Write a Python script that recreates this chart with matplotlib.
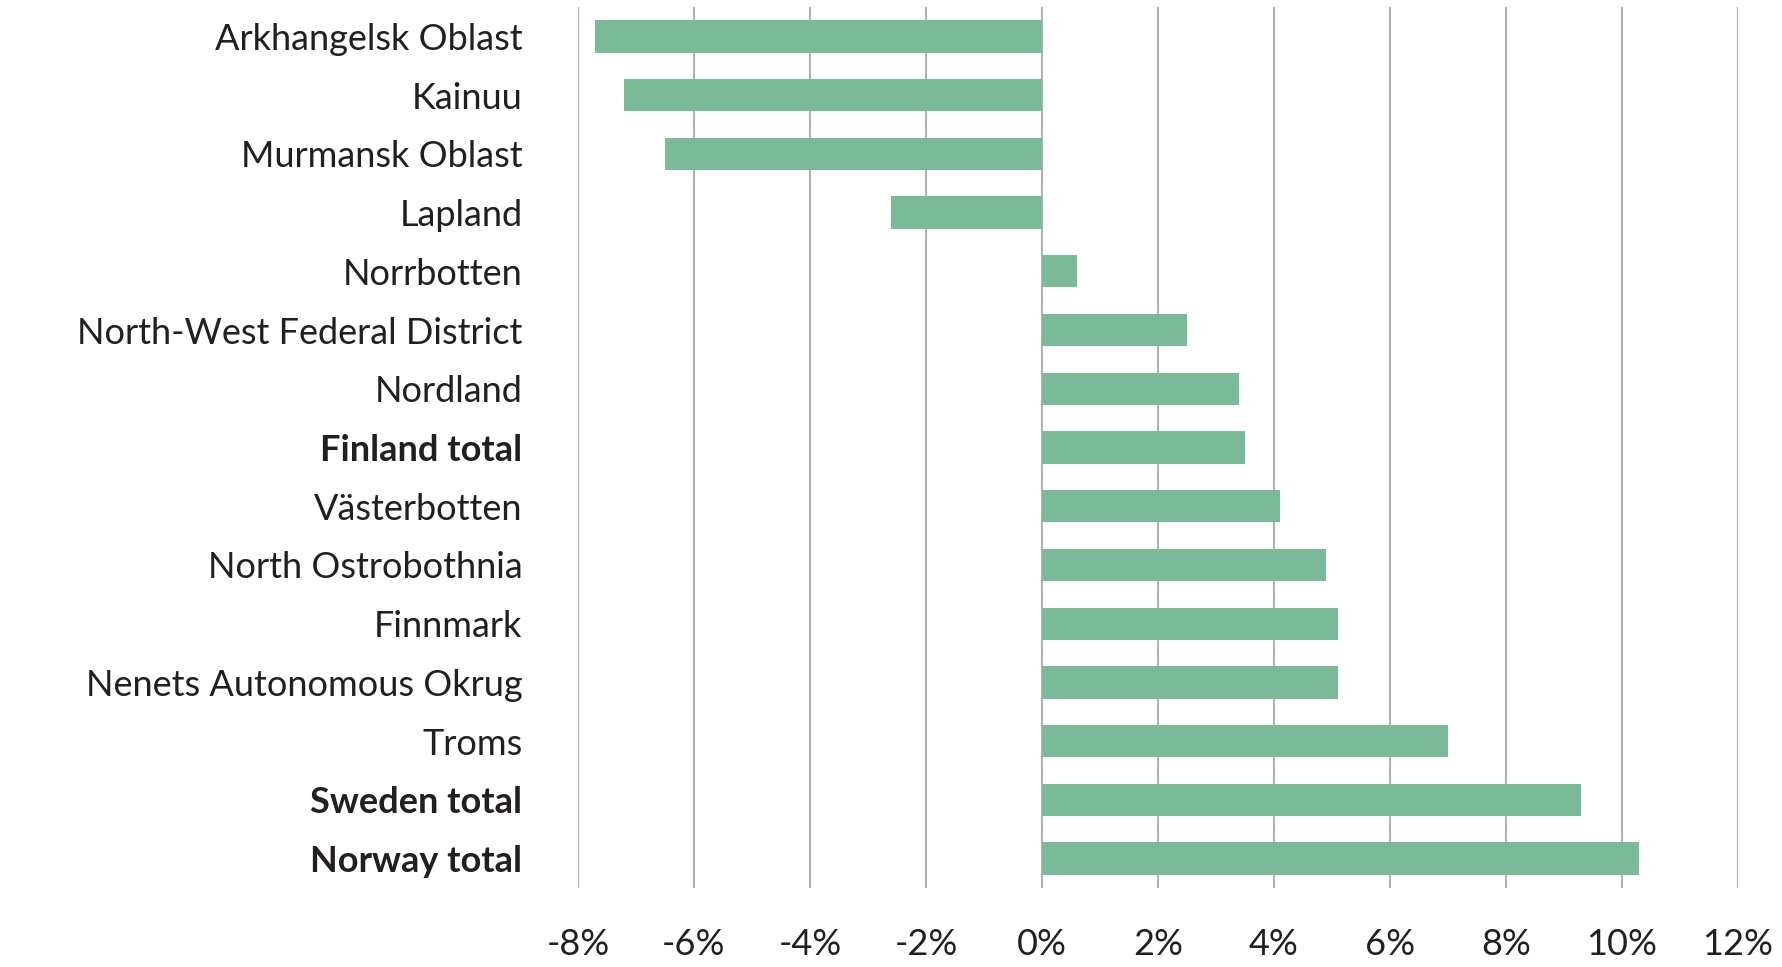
import matplotlib.pyplot as plt

# Data
regions = ["Arkhangelsk Oblast", "Kainuu", "Murmansk Oblast", "Lapland", "Norrbotten",
           "North-West Federal District", "Nordland", "Finland total", "Västerbotten",
           "North Ostrobothnia", "Finnmark", "Nenets Autonomous Okrug", "Troms",
           "Sweden total", "Norway total"]
change = [-7.7, -7.2, -6.5, -2.6, 0.6, 2.5, 3.4, 3.5, 4.1, 4.9, 5.1, 5.1, 7.0, 9.3, 10.3]
bold_rows = ["Finland total", "Sweden total", "Norway total"]
xticks = [-8, -6, -4, -2, 0, 2, 4, 6, 8, 10, 12]
xtick_labels = ["-8%", "-6%", "-4%", "-2%", "0%", "2%", "4%", "6%", "8%", "10%", "12%"]

plt.rcParams['font.family'] = ['Lato', 'DejaVu Sans']

fig = plt.figure(figsize=(17.83, 9.67), dpi=100)
ax = fig.add_axes([578 / 1783, 1 - 888 / 967, (1738 - 578) / 1783, (888 - 7) / 967])

ax.barh(range(len(regions)), change, height=0.55, color="#7bba97", zorder=2)

ax.set_xlim(-8, 12)
ax.set_ylim(len(regions) - 0.5, -0.5)
ax.set_xticks(xticks)
ax.set_xticklabels(xtick_labels)
ax.set_yticks(range(len(regions)))
ax.set_yticklabels(regions)

for lbl in ax.get_yticklabels():
    if lbl.get_text() in bold_rows:
        lbl.set_fontweight("bold")

ax.tick_params(axis="y", length=0, pad=40, labelsize=26, labelcolor="#231f20")
ax.tick_params(axis="x", length=0, pad=29, labelsize=26, labelcolor="#231f20")

ax.grid(axis="x", color="#b3b3b3", linewidth=1.5)
ax.set_axisbelow(True)
for s in ax.spines.values():
    s.set_visible(False)

plt.savefig("out.png", dpi=100)
